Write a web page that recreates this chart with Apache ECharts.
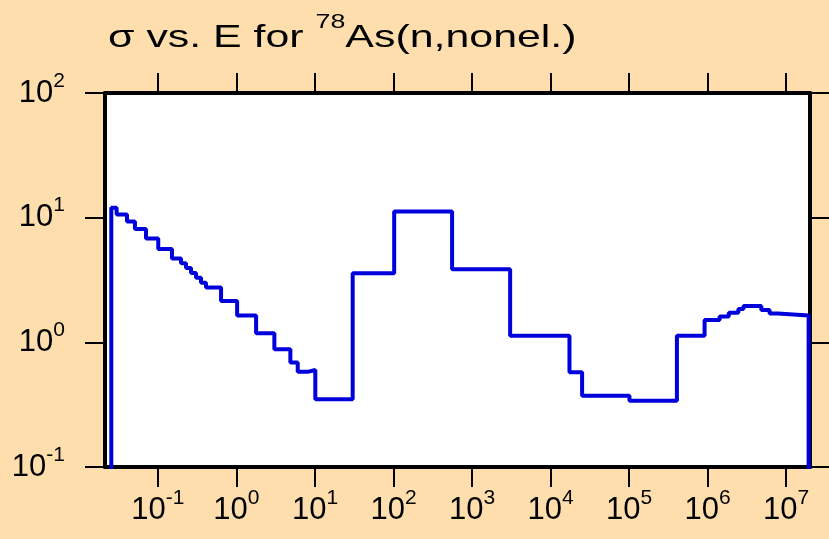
<!DOCTYPE html>
<html>
<head>
<meta charset="utf-8">
<script src="https://cdn.jsdelivr.net/npm/echarts@6/dist/echarts.min.js"></script>
<style>
  html, body { margin: 0; padding: 0; background: #FFDEAD; }
  #main { width: 829px; height: 539px; }
</style>
</head>
<body>
<div id="main"></div>
<script>
// group boundaries (eV) and cross section in each group (b)
const energies = [0.0255, 0.0298, 0.0404, 0.051, 0.0705, 0.101, 0.151, 0.197, 0.228, 0.264,
  0.306, 0.354, 0.41, 0.637, 1.02, 1.78, 3.04, 4.86, 6.03, 8.07,
  10.1, 30.2, 102, 557, 3055, 17400, 25200, 1.01e5, 4.06e5, 9.14e5,
  1.42e6, 1.86e6, 2.46e6, 2.86e6, 4.82e6, 6.15e6, 7.83e6, 1.93e7]
const sigma = [12.0, 10.6, 9.3, 8.1, 6.8, 5.6, 4.7, 4.3, 3.95, 3.6,
  3.3, 3.0, 2.75, 2.15, 1.64, 1.18, 0.88, 0.69, 0.58, 0.60,
  0.35, 3.58, 11.2, 3.85, 1.13, 0.575, 0.373, 0.34, 1.13, 1.51,
  1.61, 1.73, 1.85, 1.96, 1.82, 1.70, 1.64]
const sigmaFloor = 0.001
const xTicks = [0.1, 1, 10, 100, 1e3, 1e4, 1e5, 1e6, 1e7]
const yTicks = [0.1, 1, 10, 100]
const xRange = [0.0212, 2.01e7]
const yRange = [0.1, 100]

const stepData = [[energies[0], sigmaFloor]]
sigma.forEach((s, i) => stepData.push([energies[i], s]))
stepData.push([energies[energies.length - 1], sigmaFloor])

const font = 'Liberation Sans, Arial, sans-serif'
const powLabel = v => '{b|10}{s|' + Math.round(Math.log10(v)) + '}'
// 上标：用底部 padding 把数字抬高
const rich = {
  b: { fontSize: 31, fontFamily: font, color: '#000', lineHeight: 30 },
  s: { fontSize: 21, fontFamily: font, color: '#000', lineHeight: 8, padding: [0, 0, 24, 0] }
}
const frameLine = { show: true, onZero: false, lineStyle: { color: '#000', width: 4 } }
const tickStyle = { show: true, length: 20, inside: false, lineStyle: { color: '#000', width: 2 } }

const myChart = echarts.init(document.querySelector('#main'))
const option = {
  backgroundColor: '#FFDEAD',
  animation: false,
  graphic: [
    {
      type: 'text',
      x: 108,
      y: 20,
      scaleX: 1.34,
      style: {
        text: '{t|σ vs. E for }{s|78}{t|As(n,nonel.)}',
        rich: {
          t: { fontSize: 32, fontFamily: font, fill: '#000', lineHeight: 36 },
          s: { fontSize: 20, fontFamily: font, fill: '#000', lineHeight: 8, padding: [0, 0, 32, 0] }
        }
      }
    }
  ],
  grid: {
    left: 105, right: 19, top: 93, bottom: 72,
    show: true, backgroundColor: '#fff', borderWidth: 0
  },
  xAxis: [
    {
      type: 'log', min: xRange[0], max: xRange[1], position: 'bottom',
      axisLine: frameLine,
      axisTick: { ...tickStyle, customValues: xTicks },
      axisLabel: { customValues: xTicks, formatter: powLabel, rich, margin: 28 },
      splitLine: { show: false }, minorTick: { show: false }
    },
    {
      type: 'log', min: xRange[0], max: xRange[1], position: 'top',
      axisLine: frameLine,
      axisTick: { ...tickStyle, customValues: xTicks },
      axisLabel: { show: false },
      splitLine: { show: false }
    }
  ],
  yAxis: [
    {
      type: 'log', min: yRange[0], max: yRange[1], position: 'left',
      axisLine: frameLine,
      axisTick: { ...tickStyle, customValues: yTicks },
      axisLabel: { customValues: yTicks, formatter: powLabel, rich, margin: 40 },
      splitLine: { show: false }
    },
    {
      type: 'log', min: yRange[0], max: yRange[1], position: 'right',
      axisLine: frameLine,
      axisTick: { ...tickStyle, customValues: yTicks },
      axisLabel: { show: false },
      splitLine: { show: false }
    }
  ],
  series: [
    {
      type: 'line',
      step: 'end',
      data: stepData,
      xAxisIndex: 0,
      yAxisIndex: 0,
      showSymbol: false,
      clip: true,
      lineStyle: { color: '#0000dd', width: 4 }
    }
  ]
}
myChart.setOption(option)
</script>
</body>
</html>
